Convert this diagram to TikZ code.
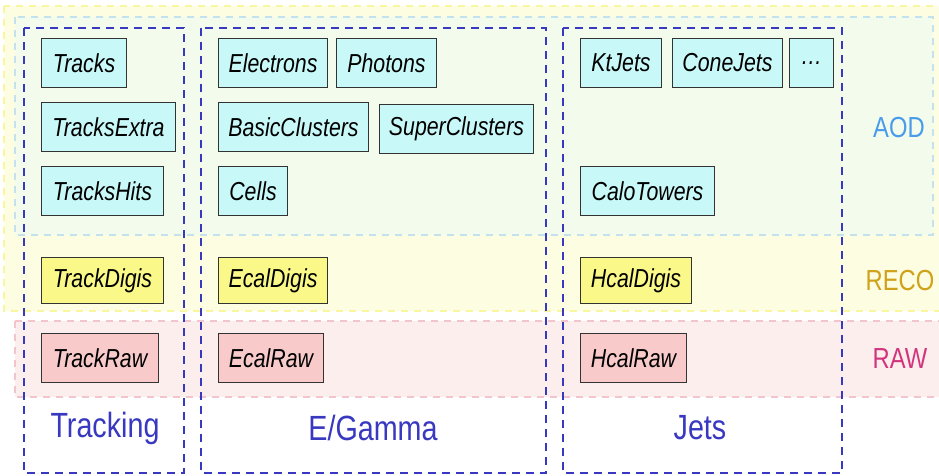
\documentclass[tikz,border=0pt]{standalone}
\usepackage{fontspec}
\setmainfont{Liberation Sans}
\newfontfamily\lsans[FakeStretch=0.82]{Liberation Sans}
\definecolor{aodfill}{HTML}{F2FBEC}
\definecolor{aodline}{HTML}{C4E2EE}
\definecolor{recofill}{HTML}{FDFDE2}
\definecolor{recoline}{HTML}{F8F6A0}
\definecolor{rawfill}{HTML}{FDEEEE}
\definecolor{rawline}{HTML}{F2C4CC}
\definecolor{cyanbox}{HTML}{C8F8F8}
\definecolor{yelbox}{HTML}{FAF888}
\definecolor{pinkbox}{HTML}{F8CACA}
\definecolor{grpblue}{HTML}{3838C0}
\definecolor{aodtxt}{HTML}{4A9CEA}
\definecolor{recotxt}{HTML}{CFA21A}
\definecolor{rawtxt}{HTML}{D2357E}
\tikzset{
  band/.style={line width=1.6pt, dash pattern=on 7pt off 6pt},
  grp/.style={draw=grpblue, line width=2.4pt, dash pattern=on 8pt off 6pt},
  item/.style={draw=black!80, line width=1pt, anchor=north west, inner sep=0pt,
    font=\lsans\itshape\fontsize{26}{26}\selectfont},
  aod/.style={item, fill=cyanbox},
  reco/.style={item, fill=yelbox},
  raw/.style={item, fill=pinkbox},
  grplabel/.style={text=grpblue, font=\lsans\fontsize{35}{35}\selectfont},
  levlabel/.style={font=\lsans\fontsize{29}{29}\selectfont},
}
\begin{document}
\begin{tikzpicture}[x=1pt,y=-1pt]
\useasboundingbox (0,0) rectangle (939,476);
% bands
\fill[white] (0,0) rectangle (939,476);
\draw[band, draw=recoline, fill=recofill] (4,6) rectangle (950,311);
\draw[band, draw=aodline, fill=aodfill] (15,17) rectangle (933,235);
\draw[band, draw=rawline, fill=rawfill] (15,321) rectangle (950,397);
% groups
\draw[grp] (24,28) rectangle (184,473);
\draw[grp] (201,28) rectangle (546,473);
\draw[grp] (563,28) rectangle (842,473);
% Tracking
\node[aod, minimum width=85pt, minimum height=49pt] (tracks) at (41,38) {Tracks};
\node[aod, minimum width=134pt, minimum height=49pt] (tracksextra) at (41,102) {TracksExtra};
\node[aod, minimum width=122pt, minimum height=49pt] (trackshits) at (41,166) {TracksHits};
\node[reco, minimum width=122pt, minimum height=46pt] (trackdigis) at (41,257) {TrackDigis};
\node[raw, minimum width=117pt, minimum height=49pt] (trackraw) at (41,333) {TrackRaw};
\node[grplabel] (tracking) at (105,428) {Tracking};
% E/Gamma
\node[aod, minimum width=109pt, minimum height=49pt] (electrons) at (218,38) {Electrons};
\node[aod, minimum width=100pt, minimum height=49pt] (photons) at (336,38) {Photons};
\node[aod, minimum width=150pt, minimum height=49pt] (basic) at (218,102) {BasicClusters};
\node[aod, minimum width=154pt, minimum height=49pt] (super) at (379,104) {SuperClusters};
\node[aod, minimum width=69pt, minimum height=49pt] (cells) at (218,166) {Cells};
\node[reco, minimum width=109pt, minimum height=46pt] (ecaldigis) at (218,257) {EcalDigis};
\node[raw, minimum width=105pt, minimum height=49pt] (ecalraw) at (218,333) {EcalRaw};
\node[grplabel] (egamma) at (373,428) {E/Gamma};
% Jets
\node[aod, minimum width=81pt, minimum height=49pt] (ktjets) at (580,38) {KtJets};
\node[aod, minimum width=110pt, minimum height=49pt] (conejets) at (672,38) {ConeJets};
\node[aod, minimum width=44pt, minimum height=49pt] (more) at (789,38) {\ldots};
\node[aod, minimum width=134pt, minimum height=49pt] (calotowers) at (580,166) {CaloTowers};
\node[reco, minimum width=111pt, minimum height=46pt] (hcaldigis) at (580,257) {HcalDigis};
\node[raw, minimum width=106pt, minimum height=49pt] (hcalraw) at (580,333) {HcalRaw};
\node[grplabel] (jets) at (700,428) {Jets};
% level labels
\node[levlabel, text=aodtxt] (aodl) at (899,128) {AOD};
\node[levlabel, text=recotxt] (recol) at (900,281) {RECO};
\node[levlabel, text=rawtxt] (rawl) at (900,359) {RAW};
\end{tikzpicture}
\end{document}
